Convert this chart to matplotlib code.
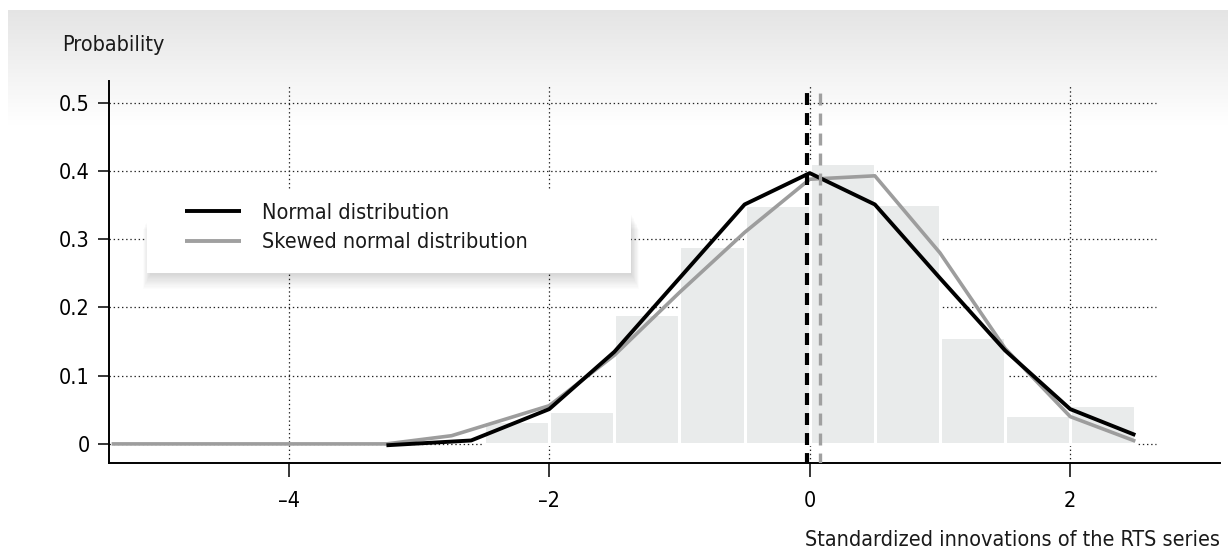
#!/usr/bin/env python3
# -*- coding: utf-8 -*-

import numpy as np
import matplotlib
matplotlib.use('Agg')
import matplotlib.pyplot as plt
from matplotlib.patches import Rectangle
from matplotlib.lines import Line2D

# histogram of standardized innovations (bins of 0.5)
bin_left = [-2.5, -2.0, -1.5, -1.0, -0.5, 0.0, 0.5, 1.0, 1.5, 2.0]
bin_height = [0.034, 0.048, 0.19, 0.29, 0.35, 0.412, 0.352, 0.157, 0.042, 0.057]

# fitted densities
normal_x = [-3.25, -2.6, -2.0, -1.5, -1.0, -0.5, 0.0, 0.5, 1.0, 1.5, 2.0, 2.5]
normal_y = [-0.002, 0.005, 0.051, 0.135, 0.243, 0.351, 0.397, 0.351, 0.243, 0.137, 0.051, 0.013]

skew_x = [-5.36, -3.25, -2.75, -2.0, -1.5, -1.0, -0.5, 0.0, 0.5, 1.0, 1.5, 2.0, 2.5]
skew_y = [0.0, 0.0, 0.012, 0.056, 0.13, 0.222, 0.31, 0.388, 0.393, 0.28, 0.14, 0.04, 0.004]

# means of the two fits
normal_mean = -0.018
skew_mean = 0.077

xticks = [-4, -2, 0, 2]
xticklabels = ['\u20134', '\u20132', '0', '2']
yticks = [0, 0.1, 0.2, 0.3, 0.4, 0.5]
yticklabels = ['0', '0.1', '0.2', '0.3', '0.4', '0.5']

labels = ['Normal distribution', 'Skewed normal distribution']

W, H = 1228, 556
plt.rcParams['font.family'] = ['DejaVu Sans']
plt.rcParams['font.stretch'] = 'condensed'
plt.rcParams['font.size'] = 15.5
plt.rcParams['text.color'] = '#1a1a1a'
plt.rcParams['lines.scale_dashes'] = False

def px(x, y, w=0, h=0):
    # pixel box (from top-left) -> figure fraction [l, b, w, h]
    return [x / W, 1 - (y + h) / H, w / W, h / H]

fig = plt.figure(figsize=(W / 100, H / 100), dpi=100)

# grey header gradient
bg = fig.add_axes(px(8, 10, W - 8, 115), zorder=0)
grad = np.linspace(0.895, 1.0, 200).reshape(-1, 1)
bg.imshow(np.repeat(grad, 3, axis=1)[:, :, None] * np.ones((1, 1, 3)),
          aspect='auto', interpolation='bilinear', extent=(0, 1, 0, 1))
bg.set_axis_off()

ax = fig.add_axes(px(109, 81, 1220 - 109, 463 - 81), zorder=1)
ax.patch.set_alpha(0)
xmin, xmax = -5.38, 3.15
ymin, ymax = -0.028, 0.532
ax.set_xlim(xmin, xmax)
ax.set_ylim(ymin, ymax)

# dotted grid
for yv in yticks:
    ax.plot([xmin, 2.66], [yv, yv], color='#222222', lw=0.9,
            ls=(0, (1, 2)), zorder=1)
for xv in xticks:
    ax.plot([xv, xv], [ymin, 0.524], color='#222222', lw=0.9,
            ls=(0, (1, 2)), zorder=1)

ax.bar(bin_left, bin_height, width=0.5, align='edge', color='#e9ebeb',
       edgecolor='white', linewidth=2.2, zorder=2)

ax.plot(skew_x, skew_y, color='#9d9d9d', lw=2.6, zorder=3,
        solid_capstyle='butt')
ax.plot(normal_x, normal_y, color='black', lw=2.8, zorder=4,
        solid_capstyle='butt')

ax.plot([normal_mean, normal_mean], [-0.031, 0.524], color='black', lw=3.0,
        dashes=(8.6, 5.8), zorder=5)
ax.plot([skew_mean, skew_mean], [-0.031, 0.524], color='#a0a0a0', lw=2.4,
        dashes=(8.6, 5.8), zorder=5)

for s in ['top', 'right']:
    ax.spines[s].set_visible(False)
for s in ['left', 'bottom']:
    ax.spines[s].set_linewidth(1.4)
ax.set_xticks(xticks)
ax.set_xticklabels(xticklabels)
ax.set_yticks(yticks)
ax.set_yticklabels(yticklabels)
ax.tick_params(axis='x', direction='out', length=10, width=1.1, pad=10)
ax.tick_params(axis='y', direction='out', length=8, width=1.1, pad=6)

# legend box with a soft shadow
for i in range(14):
    fig.patches.append(Rectangle(
        ((147 - 4 + i * 0.6) / W, 1 - (273 + 16 - i * 1.2) / H),
        (484 + 12 - i * 1.2) / W, (60) / H, transform=fig.transFigure,
        facecolor='black', edgecolor='none', alpha=0.011, zorder=2))
fig.patches.append(Rectangle((147 / W, 1 - 273 / H), 484 / W, 83 / H,
                             transform=fig.transFigure, facecolor='white',
                             edgecolor='none', zorder=3))
handles = [Line2D([], [], color='black', lw=2.8, solid_capstyle='butt'),
           Line2D([], [], color='#a0a0a0', lw=2.8, solid_capstyle='butt')]
leg = fig.legend(handles, labels, loc='upper left',
                 bbox_to_anchor=(185 / W, 1 - 203 / H), borderpad=0,
                 borderaxespad=0, handlelength=2.6, handletextpad=1.0,
                 labelspacing=0.44, frameon=False)
leg.set_zorder(4)

fig.text(62 / W, 1 - 45 / H, 'Probability', va='center', ha='left')
fig.text(1220 / W, 1 - 540 / H, 'Standardized innovations of the RTS series',
         va='center', ha='right')

plt.savefig('out.png', dpi=100)
